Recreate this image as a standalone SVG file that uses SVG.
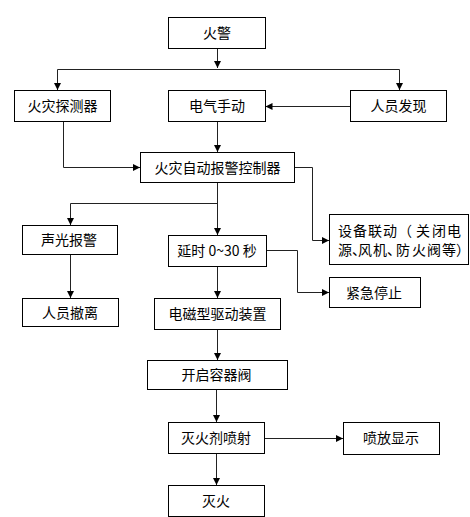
<svg xmlns="http://www.w3.org/2000/svg" width="470" height="517" viewBox="0 0 470 517">
<style>
.box{fill:#fff;stroke:#000;stroke-width:1}
.t{font-family:"Noto Sans CJK SC","Liberation Sans",sans-serif;font-size:14px;fill:#000;text-anchor:middle}
.s{text-anchor:start}
.c{fill:none;stroke:#222;stroke-width:1}
</style>
<defs>
<marker id="a" markerUnits="userSpaceOnUse" markerWidth="8" markerHeight="8" refX="7" refY="3.5" orient="auto">
<path d="M0,0 L7,3.5 L0,7 z" fill="#000"/>
</marker>
</defs>
<rect width="470" height="517" fill="#fff"/>
<g id="connectors">
<path class="c" d="M217.5,48 V68" marker-end="url(#a)"/>
<path class="c" d="M57.5,69.5 H399.5"/>
<path class="c" d="M57.5,69.5 V90" marker-end="url(#a)"/>
<path class="c" d="M399.5,69.5 V90" marker-end="url(#a)"/>
<path class="c" d="M350,106.5 H265.5" marker-end="url(#a)"/>
<path class="c" d="M217.5,122 V152" marker-end="url(#a)"/>
<path class="c" d="M63.5,122 V167.5 H140" marker-end="url(#a)"/>
<path class="c" d="M295,167.5 H312.5 V240.5 H329" marker-end="url(#a)"/>
<path class="c" d="M217.5,183 V235" marker-end="url(#a)"/>
<path class="c" d="M217.5,203.5 H70.5 V225" marker-end="url(#a)"/>
<path class="c" d="M70.5,254 V298" marker-end="url(#a)"/>
<path class="c" d="M267,250.5 H297.5 V292.5 H329" marker-end="url(#a)"/>
<path class="c" d="M217.5,267 V298" marker-end="url(#a)"/>
<path class="c" d="M217.5,329 V360" marker-end="url(#a)"/>
<path class="c" d="M216.5,389 V422" marker-end="url(#a)"/>
<path class="c" d="M264,438.5 H343" marker-end="url(#a)"/>
<path class="c" d="M216.5,453 V485" marker-end="url(#a)"/>
</g>
<g id="n-huojing"><rect class="box" x="168.5" y="17.5" width="97" height="31"/><text class="t" x="217" y="38">火警</text></g>
<g id="n-tanceqi"><rect class="box" x="14.5" y="90.5" width="96" height="31"/><text class="t" x="62.5" y="111">火灾探测器</text></g>
<g id="n-shoudong"><rect class="box" x="168.5" y="90.5" width="97" height="31"/><text class="t" x="217" y="111">电气手动</text></g>
<g id="n-faxian"><rect class="box" x="350.5" y="90.5" width="96" height="31"/><text class="t" x="398.5" y="111">人员发现</text></g>
<g id="n-kongzhiqi"><rect class="box" x="140.5" y="152.5" width="154" height="30"/><text class="t" x="217.5" y="172.5">火灾自动报警控制器</text></g>
<g id="n-liandong"><rect class="box" x="329.5" y="214.5" width="139" height="50"/><text class="t s" x="338 353 368 383 398 416 432 447" y="235.5">设备联动（关闭电</text><text class="t s" x="338 352 358 373 387 396 412 427 442 456" y="254.5">源、风机、防火阀等）</text></g>
<g id="n-shengguang"><rect class="box" x="22.5" y="225.5" width="95" height="29"/><text class="t" x="69" y="245">声光报警</text></g>
<g id="n-yanshi"><rect class="box" x="168.5" y="235.5" width="98" height="31"/><text class="t" x="217" y="256">延时 0~30 秒</text></g>
<g id="n-tingzhi"><rect class="box" x="329.5" y="277.5" width="91" height="30"/><text class="t" x="374" y="297.5">紧急停止</text></g>
<g id="n-cheli"><rect class="box" x="22.5" y="298.5" width="96" height="28"/><text class="t" x="70" y="318">人员撤离</text></g>
<g id="n-qudong"><rect class="box" x="154.5" y="298.5" width="126" height="31"/><text class="t" x="217.5" y="319">电磁型驱动装置</text></g>
<g id="n-rongqifa"><rect class="box" x="147.5" y="360.5" width="140" height="29"/><text class="t" x="216.5" y="380">开启容器阀</text></g>
<g id="n-penshe"><rect class="box" x="168.5" y="422.5" width="96" height="31"/><text class="t" x="216" y="443">灭火剂喷射</text></g>
<g id="n-xianshi"><rect class="box" x="343.5" y="422.5" width="96" height="32"/><text class="t" x="391" y="443">喷放显示</text></g>
<g id="n-miehuo"><rect class="box" x="168.5" y="485.5" width="96" height="31"/><text class="t" x="216" y="506">灭火</text></g>
</svg>
